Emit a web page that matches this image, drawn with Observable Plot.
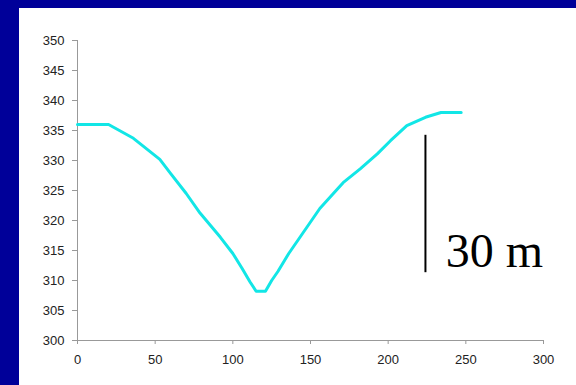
<!DOCTYPE html>
<html>
<head>
<meta charset="utf-8">
<script src="https://cdn.jsdelivr.net/npm/d3@7"></script>
<script src="https://cdn.jsdelivr.net/npm/@observablehq/plot@0.6"></script>
<style>
  html, body { margin: 0; padding: 0; }
  body { width: 576px; height: 385px; background: #000099; position: relative; overflow: hidden; }
  #panel { position: absolute; left: 19px; top: 8px; width: 557px; height: 377px; background: #ffffff; }
</style>
</head>
<body>
<div id="panel"></div>
<script>
// Profile distance (x) and elevation (y)
const distance = [0, 20, 36, 53, 60, 70, 79, 92, 100, 106, 111, 115, 121, 125, 129, 136, 144, 152, 156, 164, 171, 182, 193, 201.5, 212, 224, 234, 247];
const elevation = [336, 336, 333.7, 330.2, 327.8, 324.5, 321.2, 317.2, 314.5, 312, 309.8, 308.2, 308.2, 310, 311.5, 314.5, 317.5, 320.5, 322, 324.3, 326.3, 328.6, 331.1, 333.3, 335.8, 337.2, 338, 338];
const xTicks = [0, 50, 100, 150, 200, 250, 300];
const yTicks = [300, 305, 310, 315, 320, 325, 330, 335, 340, 345, 350];
// Scale bar annotation
const barX = [224];
const barY1 = [334.2];
const barY2 = [311.3];
const barLabel = ["30 m"];
const barLabelX = [237];
const barLabelY = [312.2];

const profile = distance.map((d, i) => ({x: d, y: elevation[i]}));
const bar = barX.map((x, i) => ({x, y1: barY1[i], y2: barY2[i]}));
const label = barLabel.map((t, i) => ({t, x: barLabelX[i], y: barLabelY[i]}));

const chart = Plot.plot({
  width: 557,
  height: 377,
  marginLeft: 58,
  marginRight: 33,
  marginTop: 32,
  marginBottom: 45,
  style: {background: "#ffffff", fontFamily: "'Liberation Sans', Arial, sans-serif", fontSize: "13px", color: "#222"},
  x: {domain: [0, 300]},
  y: {domain: [300, 350]},
  marks: [
    Plot.axisX({ticks: xTicks, tickSize: 4, tickPadding: 10, stroke: "#999", fill: "#222", label: null, fontSize: 13}),
    Plot.axisY({ticks: yTicks, tickSize: 5, tickPadding: 8, stroke: "#999", fill: "#222", label: null, fontSize: 13}),
    Plot.ruleX([0], {y1: 300, y2: 350, stroke: "#999"}),
    Plot.ruleY([300], {x1: 0, x2: 300, stroke: "#999"}),
    Plot.line(profile, {x: "x", y: "y", stroke: "#12e6e6", strokeWidth: 3, strokeLinejoin: "round", strokeLinecap: "round"}),
    Plot.ruleX(bar, {x: "x", y1: "y1", y2: "y2", stroke: "#000", strokeWidth: 2}),
    Plot.text(label, {x: "x", y: "y", text: "t", textAnchor: "start", lineAnchor: "bottom", fontFamily: "'Liberation Serif', 'Times New Roman', serif", fontSize: 48, fill: "#000"})
  ]
});
document.getElementById("panel").appendChild(chart);
</script>
</body>
</html>
